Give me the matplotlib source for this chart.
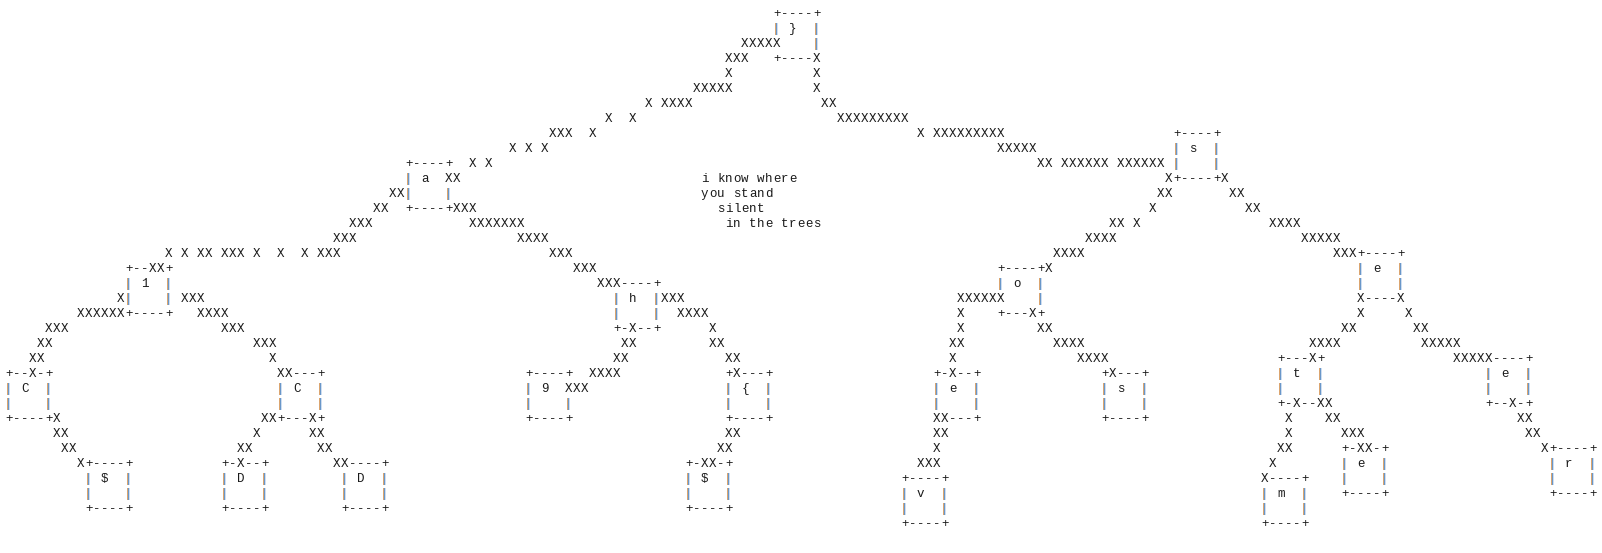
import matplotlib
matplotlib.use("Agg")
import matplotlib.pyplot as plt
import matplotlib.transforms as mtransforms

# ascii tree, each chunk is (row, column, text) on a character grid
tree_segments = [
    (0, 96, "+----+"),
    (1, 96, "| }  |"),
    (2, 92, "XXXXX    |"),
    (3, 90, "XXX"), (3, 96, "+----X"),
    (4, 90, "X"), (4, 101, "X"),
    (5, 86, "XXXXX"), (5, 101, "X"),
    (6, 80, "X XXXX"), (6, 102, "XX"),
    (7, 75, "X  X"), (7, 104, "XXXXXXXXX"),
    (8, 68, "XXX  X"), (8, 114, "X XXXXXXXXX"), (8, 146, "+----+"),
    (9, 63, "X X X"), (9, 124, "XXXXX"), (9, 146, "| s  |"),
    (10, 50, "+----+  X X"), (10, 129, "XX XXXXXX XXXXXX"), (10, 146, "|    |"),
    (11, 50, "| a  XX"), (11, 145, "X+----+X"),
    (12, 48, "XX|    |"), (12, 144, "XX"), (12, 153, "XX"),
    (13, 46, "XX  +----+XXX"), (13, 143, "X"), (13, 155, "XX"),
    (14, 43, "XXX"), (14, 58, "XXXXXXX"), (14, 138, "XX X"), (14, 158, "XXXX"),
    (15, 41, "XXX"), (15, 64, "XXXX"), (15, 135, "XXXX"), (15, 162, "XXXXX"),
    (16, 20, "X X XX XXX X  X  X XXX"), (16, 68, "XXX"), (16, 131, "XXXX"),
    (16, 166, "XXX+----+"),
    (17, 15, "+--XX+"), (17, 71, "XXX"), (17, 124, "+----+X"), (17, 169, "| e  |"),
    (18, 15, "| 1  |"), (18, 74, "XXX----+"), (18, 124, "| o  |"), (18, 169, "|    |"),
    (19, 14, "X|    | XXX"), (19, 76, "| h  |XXX"), (19, 119, "XXXXXX    |"),
    (19, 169, "X----X"),
    (20, 9, "XXXXXX+----+   XXXX"), (20, 76, "|    |  XXXX"), (20, 119, "X    +---X+"),
    (20, 169, "X     X"),
    (21, 5, "XXX"), (21, 27, "XXX"), (21, 76, "+-X--+"), (21, 88, "X"), (21, 119, "X"),
    (21, 129, "XX"), (21, 167, "XX"), (21, 176, "XX"),
    (22, 4, "XX"), (22, 31, "XXX"), (22, 77, "XX"), (22, 88, "XX"), (22, 118, "XX"),
    (22, 131, "XXXX"), (22, 163, "XXXX"), (22, 177, "XXXXX"),
    (23, 3, "XX"), (23, 33, "X"), (23, 76, "XX"), (23, 90, "XX"), (23, 118, "X"),
    (23, 134, "XXXX"), (23, 159, "+---X+"), (23, 181, "XXXXX----+"),
    (24, 0, "+--X-+"), (24, 34, "XX---+"), (24, 65, "+----+"), (24, 73, "XXXX"),
    (24, 90, "+X---+"), (24, 116, "+-X--+"), (24, 137, "+X---+"), (24, 159, "| t  |"),
    (24, 185, "| e  |"),
    (25, 0, "| C  |"), (25, 34, "| C  |"), (25, 65, "| 9  XXX"), (25, 90, "| {  |"),
    (25, 116, "| e  |"), (25, 137, "| s  |"), (25, 159, "|    |"), (25, 185, "|    |"),
    (26, 0, "|    |"), (26, 34, "|    |"), (26, 65, "|    |"), (26, 90, "|    |"),
    (26, 116, "|    |"), (26, 137, "|    |"), (26, 159, "+-X--XX"), (26, 185, "+--X-+"),
    (27, 0, "+----+X"), (27, 32, "XX+---X+"), (27, 65, "+----+"), (27, 90, "+----+"),
    (27, 116, "XX---+"), (27, 137, "+----+"), (27, 160, "X"), (27, 165, "XX"),
    (27, 189, "XX"),
    (28, 6, "XX"), (28, 31, "X"), (28, 38, "XX"), (28, 90, "XX"), (28, 116, "XX"),
    (28, 160, "X"), (28, 167, "XXX"), (28, 190, "XX"),
    (29, 7, "XX"), (29, 29, "XX"), (29, 39, "XX"), (29, 89, "XX"), (29, 116, "X"),
    (29, 159, "XX"), (29, 167, "+-XX-+"), (29, 192, "X+----+"),
    (30, 9, "X+----+"), (30, 27, "+-X--+"), (30, 41, "XX----+"), (30, 85, "+-XX-+"),
    (30, 114, "XXX"), (30, 158, "X"), (30, 167, "| e  |"), (30, 193, "| r  |"),
    (31, 10, "| $  |"), (31, 27, "| D  |"), (31, 42, "| D  |"), (31, 85, "| $  |"),
    (31, 112, "+----+"), (31, 157, "X----+"), (31, 167, "|    |"), (31, 193, "|    |"),
    (32, 10, "|    |"), (32, 27, "|    |"), (32, 42, "|    |"), (32, 85, "|    |"),
    (32, 112, "| v  |"), (32, 157, "| m  |"), (32, 167, "+----+"), (32, 193, "+----+"),
    (33, 10, "+----+"), (33, 27, "+----+"), (33, 42, "+----+"), (33, 85, "+----+"),
    (33, 112, "|    |"), (33, 157, "|    |"),
    (34, 112, "+----+"), (34, 157, "+----+"),
]

# the little poem in the middle
poem_lines = ["i know where", "you stand", "  silent", "   in the trees"]
poem_row = 11
poem_col = 87

fig = plt.figure(figsize=(16.02, 5.53), dpi=100)
ax = fig.add_axes([0, 0, 1, 1])
ax.set_xlim(-1.1, 199.15)
ax.set_ylim(35.98, -0.887)
ax.axis("off")

font = dict(family="Liberation Mono", fontsize=9, ha="center", va="baseline")
base = 0.27  # baseline sits a bit under the middle of the row
ink = "#1a1a1a"
bar_blue = "#3d7fc8"
bar_orange = "#d08840"
left_shift = mtransforms.offset_copy(ax.transData, fig=fig, x=-0.9, y=0, units="dots")


def put(row, col, text):
    for i, ch in enumerate(text):
        if ch == " ":
            continue
        x = col + i
        if ch == "|":
            ax.text(x, row + base, ch, color=bar_orange, transform=left_shift, **font)
            ax.text(x, row + base, ch, color=bar_blue, **font)
        else:
            ax.text(x, row + base, ch, color=ink, **font)


for row, col, text in tree_segments:
    put(row, col, text)

for k, line in enumerate(poem_lines):
    put(poem_row + k, poem_col, line)

fig.savefig("out.png", dpi=100, facecolor="white")
